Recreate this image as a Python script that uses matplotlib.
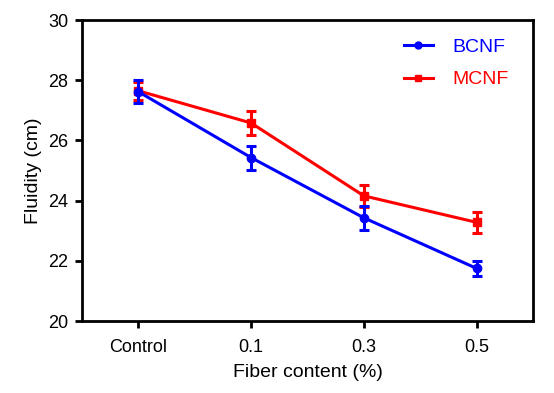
import matplotlib
matplotlib.use("Agg")
import matplotlib.pyplot as plt
from matplotlib.lines import Line2D

plt.rcParams['font.family'] = ['Liberation Sans', 'DejaVu Sans']

categories = ["Control", "0.1", "0.3", "0.5"]
bcnf = [27.62, 25.43, 23.43, 21.75]
bcnf_err = [0.38, 0.40, 0.40, 0.25]
mcnf = [27.65, 26.58, 24.16, 23.28]
mcnf_err = [0.30, 0.40, 0.36, 0.36]

fig = plt.figure(figsize=(5.54, 3.93), dpi=100)
ax = fig.add_axes([0.148, 0.183, 0.814, 0.766])
x = list(range(len(categories)))

ax.errorbar(x, bcnf, yerr=bcnf_err, color='#0000ff', marker='o', markersize=6,
            linewidth=2.2, elinewidth=2.2, capsize=3.5, capthick=2.2, zorder=3)
ax.errorbar(x, mcnf, yerr=mcnf_err, color='#ff0000', marker='s', markersize=6,
            linewidth=2.2, elinewidth=2.2, capsize=3.5, capthick=2.2, zorder=2)

ax.set_xlim(-0.5, 3.5)
ax.set_ylim(20, 30)
ax.set_yticks([20, 22, 24, 26, 28, 30])
ax.set_xticks(x)
ax.set_xticklabels(categories)
ax.set_xlabel("Fiber content (%)", fontsize=14, labelpad=6)
ax.set_ylabel("Fluidity (cm)", fontsize=14, labelpad=4)
for s in ax.spines.values():
    s.set_linewidth(2)
ax.tick_params(axis='both', length=5, width=2, labelsize=13, color='black', pad=5)
ax.tick_params(axis='x', pad=8)

handles = [Line2D([], [], color='#0000ff', marker='o', markersize=5, linewidth=2.2),
           Line2D([], [], color='#ff0000', marker='s', markersize=5, linewidth=2.2)]
leg = ax.legend(handles, ['BCNF', 'MCNF'], loc='upper right', fontsize=14, frameon=False,
                handlelength=1.5, handletextpad=1.0, labelspacing=0.75,
                borderaxespad=0.4, bbox_to_anchor=(0.98, 0.99))
for t, c in zip(leg.get_texts(), ['#0000ff', '#ff0000']):
    t.set_color(c)

fig.savefig("out.png", dpi=100)
